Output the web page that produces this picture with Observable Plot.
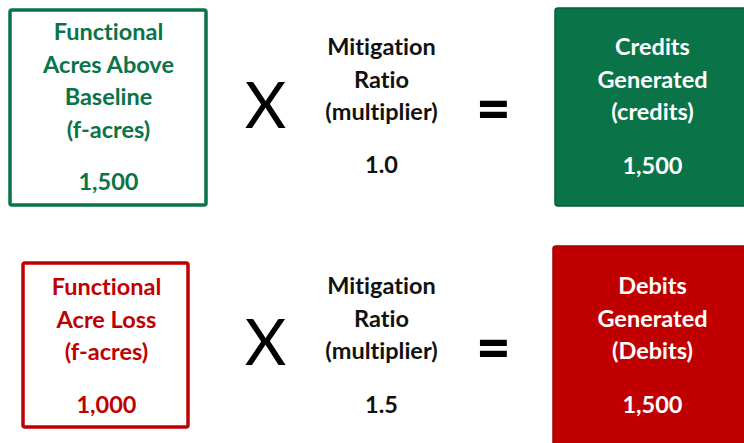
<!DOCTYPE html>
<html><head><meta charset="utf-8">
<script src="https://cdn.jsdelivr.net/npm/d3@7"></script>
<script src="https://cdn.jsdelivr.net/npm/@observablehq/plot@0.6"></script>
<style>html,body{margin:0;padding:0;background:#fff;overflow:hidden} svg text{font-variant-ligatures:none;font-feature-settings:"liga" 0}</style>
</head><body><div id="chart"></div>
<script>
// ---- data ----
const rowKeys = ["credit", "debit"];
const inputLabels = ["Functional\nAcres Above\nBaseline\n(f-acres)", "Functional\nAcre Loss\n(f-acres)"];
const inputValues = [1500, 1000];
const ratioLabels = ["Mitigation\nRatio\n(multiplier)", "Mitigation\nRatio\n(multiplier)"];
const ratioValues = [1.0, 1.5];
const outputLabels = ["Credits\nGenerated\n(credits)", "Debits\nGenerated\n(Debits)"];
const outputValues = [1500, 1500];
const operators = ["X", "="];

// ---- styling & layout (pixel space) ----
const rowColors = ["#0A7347", "#C00000"];
const rowEdge = ["#075c38", "#a30000"];
const W = 744, H = 443;
const FONT = "Lato, 'Open Sans', sans-serif";
const step = 32.6;
const layout = [
  { inBox: [10, 206, 10, 205], inFirst: 32, inValue: 182, midX: 381, midFirst: 47, midValue: 165,
    outBox: [555, 752, 8, 206], outFirst: 47, outValue: 166, opY: [107, 110], inX: 108, outX: 652 },
  { inBox: [23, 188, 263, 427], inFirst: 287, inValue: 405, midX: 381, midFirst: 286, midValue: 405,
    outBox: [553, 752, 246, 452], outFirst: 286, outValue: 405, opY: [344, 349], inX: 106, outX: 652 }
];
const opX = [265, 493];

const fmtInt = d3.format(",");
const fmtRatio = d3.format(".1f");

const fills = [];
const outlines = [];
const lines = [];
const ops = [];
rowKeys.forEach((k, r) => {
  const L = layout[r];
  outlines.push({ x1: L.inBox[0], x2: L.inBox[1], y1: L.inBox[2], y2: L.inBox[3], color: rowColors[r] });
  fills.push({ x1: L.outBox[0], x2: L.outBox[1], y1: L.outBox[2], y2: L.outBox[3], color: rowColors[r], edge: rowEdge[r] });
  inputLabels[r].split("\n").forEach((t, i) => lines.push({ x: L.inX, y: L.inFirst + i * step, text: t, color: rowColors[r] }));
  ratioLabels[r].split("\n").forEach((t, i) => lines.push({ x: L.midX, y: L.midFirst + i * step, text: t, color: "#111111" }));
  outputLabels[r].split("\n").forEach((t, i) => lines.push({ x: L.outX, y: L.outFirst + i * step, text: t, color: "#ffffff" }));
  lines.push({ x: L.inX, y: L.inValue, text: fmtInt(inputValues[r]), color: rowColors[r] });
  lines.push({ x: L.midX, y: L.midValue, text: fmtRatio(ratioValues[r]), color: "#111111" });
  lines.push({ x: L.outX, y: L.outValue, text: fmtInt(outputValues[r]), color: "#ffffff" });
  operators.forEach((o, j) => ops.push({ x: opX[j], y: L.opY[j], text: o }));
});

const chart = Plot.plot({
  width: W, height: H, margin: 0,
  x: { domain: [0, W], range: [0, W], axis: null },
  y: { domain: [0, H], range: [0, H], axis: null },
  color: { type: "identity" },
  style: { fontFamily: FONT, background: "#fff" },
  marks: [
    Plot.rect(fills, { x1: "x1", x2: "x2", y1: "y1", y2: "y2", fill: "color", stroke: "edge", strokeWidth: 1.5, rx: 3 }),
    Plot.rect(outlines, { x1: "x1", x2: "x2", y1: "y1", y2: "y2", fill: "none", stroke: "color", strokeWidth: 3.5, rx: 2 }),
    Plot.text(lines, { x: "x", y: "y", text: "text", fill: "color", fontSize: 23.5, fontWeight: 700, lineAnchor: "middle" }),
    Plot.text(ops.filter(d => d.text === "X"), { x: "x", y: "y", text: "text", fill: "#000", fontSize: 64, fontWeight: 400, lineAnchor: "middle" }),
    Plot.text(ops.filter(d => d.text === "="), { x: "x", y: "y", text: "text", fill: "#000", fontSize: 60, fontWeight: 900, lineAnchor: "middle" })
  ]
});
document.getElementById("chart").appendChild(chart);
</script>
</body></html>
